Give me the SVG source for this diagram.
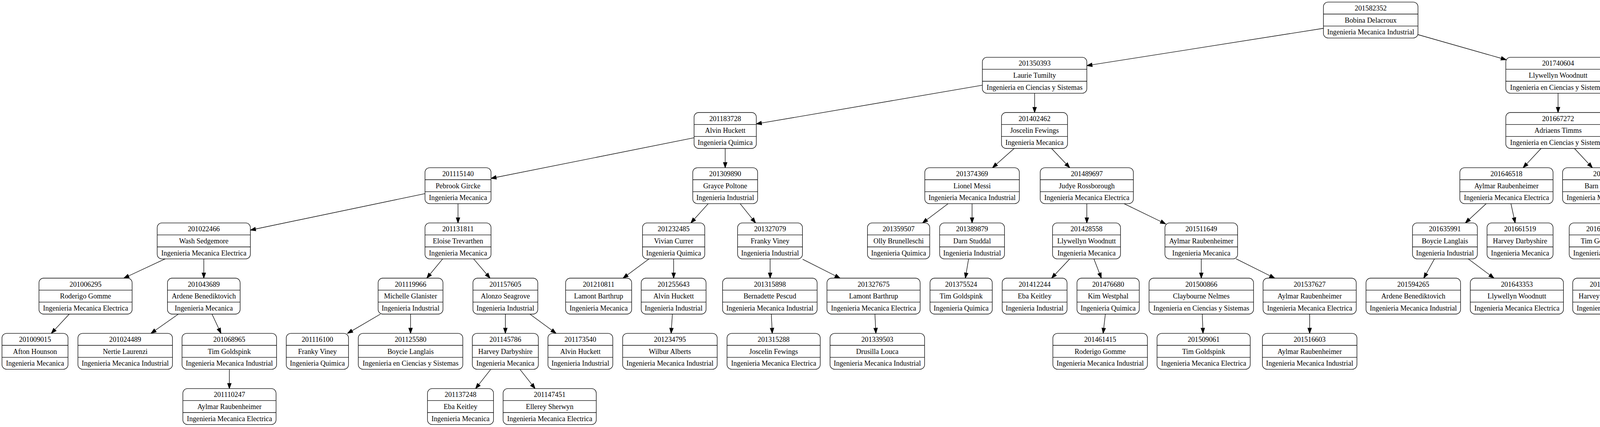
<svg xmlns="http://www.w3.org/2000/svg" xmlns:xlink="http://www.w3.org/1999/xlink" width="5831" height="1093" viewBox="0 0 5831 1093">
<style>
.bg{fill:#ffffff}
.box rect{fill:#ffffff;stroke:#000000;stroke-width:1.33}
.box line{stroke:#000000;stroke-width:1.33}
.node text{font-family:"Liberation Serif","Times New Roman",serif;font-size:18.2px;text-anchor:middle;fill:#000000}
#edges path{fill:none;stroke:#000000;stroke-width:1.33;marker-end:url(#ah)}
</style>
<defs>
<marker id="ah" markerUnits="userSpaceOnUse" viewBox="0 0 13.3 9.33" markerWidth="13.3" markerHeight="9.33" refX="13.3" refY="4.67" orient="auto" overflow="visible">
<path d="M0,0 L13.3,4.67 L0,9.33 z" fill="#000000" stroke="#000000" stroke-width="1.33"/>
</marker>
<g id="bQ" class="box"><rect x="-79.7" y="0" width="159.4" height="92" rx="12" ry="12"/><line x1="-79.7" y1="30.67" x2="79.7" y2="30.67"/><line x1="-79.7" y1="61.33" x2="79.7" y2="61.33"/></g>
<g id="bI" class="box"><rect x="-83" y="0" width="166" height="92" rx="12" ry="12"/><line x1="-83" y1="30.67" x2="83" y2="30.67"/><line x1="-83" y1="61.33" x2="83" y2="61.33"/></g>
<g id="bM" class="box"><rect x="-84.5" y="0" width="169" height="92" rx="12" ry="12"/><line x1="-84.5" y1="30.67" x2="84.5" y2="30.67"/><line x1="-84.5" y1="61.33" x2="84.5" y2="61.33"/></g>
<g id="bL" class="box"><rect x="-87" y="0" width="174" height="92" rx="12" ry="12"/><line x1="-87" y1="30.67" x2="87" y2="30.67"/><line x1="-87" y1="61.33" x2="87" y2="61.33"/></g>
<g id="bA" class="box"><rect x="-93" y="0" width="186" height="92" rx="12" ry="12"/><line x1="-93" y1="30.67" x2="93" y2="30.67"/><line x1="-93" y1="61.33" x2="93" y2="61.33"/></g>
<g id="bE" class="box"><rect x="-119.25" y="0" width="238.5" height="92" rx="12" ry="12"/><line x1="-119.25" y1="30.67" x2="119.25" y2="30.67"/><line x1="-119.25" y1="61.33" x2="119.25" y2="61.33"/></g>
<g id="bMI" class="box"><rect x="-121" y="0" width="242" height="92" rx="12" ry="12"/><line x1="-121" y1="30.67" x2="121" y2="30.67"/><line x1="-121" y1="61.33" x2="121" y2="61.33"/></g>
<g id="bS" class="box"><rect x="-133.75" y="0" width="267.5" height="92" rx="12" ry="12"/><line x1="-133.75" y1="30.67" x2="133.75" y2="30.67"/><line x1="-133.75" y1="61.33" x2="133.75" y2="61.33"/></g>
</defs>
<rect class="bg" x="0" y="0" width="5831" height="1093"/>

<g id="edges">
<path d="M3388,72.5 L2782.5,168"/>
<path d="M3629.5,88.5 L3856,153"/>
<path d="M2514.7,218.2 L1936.2,317.2"/>
<path d="M2648.6,238.67 L2648.6,288"/>
<path d="M1776.8,352.7 L1257,456.6"/>
<path d="M1856.5,380 L1856.5,429.33"/>
<path d="M1088,495.6 L641,589"/>
<path d="M1172.5,521.33 L1172.5,570.67"/>
<path d="M422.8,662.67 L317,712"/>
<path d="M521.7,662.67 L521.7,712"/>
<path d="M177.3,804 L131.4,853.33"/>
<path d="M456.6,804 L386.5,853.33"/>
<path d="M542.7,804 L565.7,853.33"/>
<path d="M587.2,945.33 L587.2,994.67"/>
<path d="M1133.3,662.67 L1092.5,712"/>
<path d="M1212.4,662.67 L1254.5,712"/>
<path d="M973.9,804 L889.7,853.33"/>
<path d="M1051,804 L1051,853.33"/>
<path d="M1293.7,804 L1293.7,853.33"/>
<path d="M1356.5,804 L1423.5,853.33"/>
<path d="M1256.4,945.33 L1217.5,994.67"/>
<path d="M1331,945.33 L1369.9,994.67"/>
<path d="M1813.1,521.33 L1768.5,570.67"/>
<path d="M1894.8,521.33 L1934.3,570.67"/>
<path d="M1661.4,662.67 L1595,712"/>
<path d="M1724.5,662.67 L1724.5,712"/>
<path d="M1721.3,804 L1718.1,853.33"/>
<path d="M1971.5,662.67 L1971.5,712"/>
<path d="M2054.8,663.6 L2150.5,712"/>
<path d="M1974.5,804 L1977,853.33"/>
<path d="M2239.8,804 L2242.3,853.33"/>
<path d="M2596.3,380 L2540.8,429.33"/>
<path d="M2692,380 L2738.5,429.33"/>
<path d="M2427.3,521.33 L2361.6,570.67"/>
<path d="M2488.5,521.33 L2488.5,570.67"/>
<path d="M2479.6,662.67 L2471.3,712"/>
<path d="M2782.3,521.33 L2782.3,570.67"/>
<path d="M2877.6,521.33 L2984,573"/>
<path d="M2738.5,662.67 L2692,712"/>
<path d="M2800.4,662.67 L2819.5,712"/>
<path d="M2829.7,804 L2824,853.33"/>
<path d="M3075.3,662.67 L3075.3,712"/>
<path d="M3164.5,662.67 L3263.4,712"/>
<path d="M3077.8,804 L3079.7,853.33"/>
<path d="M3352.7,804 L3352.7,853.33"/>
<path d="M3988.6,238.67 L3988.6,288"/>
<path d="M4121.8,216.1 L4764,319.3"/>
<path d="M3945.2,380 L3899.2,429.33"/>
<path d="M4030.6,380 L4076.5,429.33"/>
<path d="M3804.8,521.33 L3751.3,570.67"/>
<path d="M3868,521.33 L3878.8,570.67"/>
<path d="M3672.2,662.67 L3644.8,712"/>
<path d="M3758.9,662.67 L3824.6,712"/>
<path d="M4113.5,521.33 L4108.4,570.67"/>
<path d="M4188.1,521.33 L4261.5,570.67"/>
<path d="M4105.2,662.67 L4107.1,712"/>
<path d="M4326.5,662.67 L4324,712"/>
<path d="M4848.5,380 L4848.5,429.33"/>
<path d="M4933,365.3 L5122.5,432.2"/>
<path d="M4784.4,521.33 L4714.3,570.67"/>
<path d="M4875,521.33 L4903.7,570.67"/>
<path d="M4604.6,662.67 L4554.2,712"/>
<path d="M4666.5,662.67 L4682.4,712"/>
<path d="M4508.3,804 L4508.3,853.33"/>
<path d="M4928.3,662.67 L4928.3,712"/>
<path d="M5245.8,521.33 L5245.8,570.67"/>
<path d="M5334.8,521.33 L5431.8,570.67"/>
<path d="M5215.6,662.67 L5183.7,712"/>
<path d="M5291.5,662.67 L5343.1,712"/>
<path d="M5552.9,662.67 L5588.6,712"/>
<path d="M5074,799.5 L4950.9,853.33"/>
<path d="M5145.4,804 L5138.4,853.33"/>
<path d="M5396.1,804 L5403.7,853.33"/>
<path d="M5472.6,799.5 L5591.8,853.33"/>
</g>

<g id="n201582352" class="node" transform="translate(3509,5.33)"><use href="#bMI"/><text y="21.7">201582352</text><text y="52.4">Bobina Delacroux</text><text y="83">Ingenieria Mecanica Industrial</text></g>

<g id="n201350393" class="node" transform="translate(2648.6,146.67)"><use href="#bS"/><text y="21.7">201350393</text><text y="52.4">Laurie Tumilty</text><text y="83">Ingenieria en Ciencias y Sistemas</text></g>
<g id="n201740604" class="node" transform="translate(3988.6,146.67)"><use href="#bS"/><text y="21.7">201740604</text><text y="52.4">Llywellyn Woodnutt</text><text y="83">Ingenieria en Ciencias y Sistemas</text></g>

<g id="n201183728" class="node" transform="translate(1856.5,288)"><use href="#bQ"/><text y="21.7">201183728</text><text y="52.4">Alvin Huckett</text><text y="83">Ingenieria Quimica</text></g>
<g id="n201402462" class="node" transform="translate(2648.3,288)"><use href="#bM"/><text y="21.7">201402462</text><text y="52.4">Joscelin Fewings</text><text y="83">Ingenieria Mecanica</text></g>
<g id="n201667272" class="node" transform="translate(3988.6,288)"><use href="#bS"/><text y="21.7">201667272</text><text y="52.4">Adriaens Timms</text><text y="83">Ingenieria en Ciencias y Sistemas</text></g>
<g id="n201816850" class="node" transform="translate(4848.5,288)"><use href="#bM"/><text y="21.7">201816850</text><text y="52.4">Emili Palleske</text><text y="83">Ingenieria Mecanica</text></g>

<g id="n201115140" class="node" transform="translate(1172.5,429.33)"><use href="#bM"/><text y="21.7">201115140</text><text y="52.4">Pebrook Gircke</text><text y="83">Ingenieria Mecanica</text></g>
<g id="n201309890" class="node" transform="translate(1856.5,429.33)"><use href="#bI"/><text y="21.7">201309890</text><text y="52.4">Grayce Poltone</text><text y="83">Ingenieria Industrial</text></g>
<g id="n201374369" class="node" transform="translate(2488.5,429.33)"><use href="#bMI"/><text y="21.7">201374369</text><text y="52.4">Lionel Messi</text><text y="83">Ingenieria Mecanica Industrial</text></g>
<g id="n201489697" class="node" transform="translate(2782.2,429.33)"><use href="#bE"/><text y="21.7">201489697</text><text y="52.4">Judye Rossborough</text><text y="83">Ingenieria Mecanica Electrica</text></g>
<g id="n201646518" class="node" transform="translate(3856.5,429.33)"><use href="#bE"/><text y="21.7">201646518</text><text y="52.4">Aylmar Raubenheimer</text><text y="83">Ingenieria Mecanica Electrica</text></g>
<g id="n201698163" class="node" transform="translate(4119.5,429.33)"><use href="#bE"/><text y="21.7">201698163</text><text y="52.4">Barn Killingbeck</text><text y="83">Ingenieria Mecanica Electrica</text></g>
<g id="n201774497" class="node" transform="translate(4848.5,429.33)"><use href="#bS"/><text y="21.7">201774497</text><text y="52.4">Llywellyn Woodnutt</text><text y="83">Ingenieria en Ciencias y Sistemas</text></g>
<g id="n201947729" class="node" transform="translate(5245.5,429.33)"><use href="#bMI"/><text y="21.7">201947729</text><text y="52.4">Camila Dibbert</text><text y="83">Ingenieria Mecanica Industrial</text></g>

<g id="n201022466" class="node" transform="translate(521.7,570.67)"><use href="#bE"/><text y="21.7">201022466</text><text y="52.4">Wash Sedgemore</text><text y="83">Ingenieria Mecanica Electrica</text></g>
<g id="n201131811" class="node" transform="translate(1172.5,570.67)"><use href="#bM"/><text y="21.7">201131811</text><text y="52.4">Eloise Trevarthen</text><text y="83">Ingenieria Mecanica</text></g>
<g id="n201232485" class="node" transform="translate(1724.5,570.67)"><use href="#bQ"/><text y="21.7">201232485</text><text y="52.4">Vivian Currer</text><text y="83">Ingenieria Quimica</text></g>
<g id="n201327079" class="node" transform="translate(1971.3,570.67)"><use href="#bI"/><text y="21.7">201327079</text><text y="52.4">Franky Viney</text><text y="83">Ingenieria Industrial</text></g>
<g id="n201359507" class="node" transform="translate(2300.4,570.67)"><use href="#bQ"/><text y="21.7">201359507</text><text y="52.4">Olly Brunelleschi</text><text y="83">Ingenieria Quimica</text></g>
<g id="n201389879" class="node" transform="translate(2488.5,570.67)"><use href="#bI"/><text y="21.7">201389879</text><text y="52.4">Darn Studdal</text><text y="83">Ingenieria Industrial</text></g>
<g id="n201428558" class="node" transform="translate(2781.5,570.67)"><use href="#bL"/><text y="21.7">201428558</text><text y="52.4">Llywellyn Woodnutt</text><text y="83">Ingenieria Mecanica</text></g>
<g id="n201511649" class="node" transform="translate(3075.3,570.67)"><use href="#bA"/><text y="21.7">201511649</text><text y="52.4">Aylmar Raubenheimer</text><text y="83">Ingenieria Mecanica</text></g>
<g id="n201635991" class="node" transform="translate(3699,570.67)"><use href="#bI"/><text y="21.7">201635991</text><text y="52.4">Boycie Langlais</text><text y="83">Ingenieria Industrial</text></g>
<g id="n201661519" class="node" transform="translate(3891.3,570.67)"><use href="#bM"/><text y="21.7">201661519</text><text y="52.4">Harvey Darbyshire</text><text y="83">Ingenieria Mecanica</text></g>
<g id="n201669286" class="node" transform="translate(4101.7,570.67)"><use href="#bM"/><text y="21.7">201669286</text><text y="52.4">Tim Goldspink</text><text y="83">Ingenieria Mecanica</text></g>
<g id="n201704168" class="node" transform="translate(4329.8,570.67)"><use href="#bE"/><text y="21.7">201704168</text><text y="52.4">Tim Goldspink</text><text y="83">Ingenieria Mecanica Electrica</text></g>
<g id="n201766242" class="node" transform="translate(4650.9,570.67)"><use href="#bE"/><text y="21.7">201766242</text><text y="52.4">Franky Viney</text><text y="83">Ingenieria Mecanica Electrica</text></g>
<g id="n201790782" class="node" transform="translate(4928.3,570.67)"><use href="#bS"/><text y="21.7">201790782</text><text y="52.4">Claybourne Nelmes</text><text y="83">Ingenieria en Ciencias y Sistemas</text></g>
<g id="n201897987" class="node" transform="translate(5245.5,570.67)"><use href="#bQ"/><text y="21.7">201897987</text><text y="52.4">Michelle Glanister</text><text y="83">Ingenieria Quimica</text></g>
<g id="n201954202" class="node" transform="translate(5521.7,570.67)"><use href="#bMI"/><text y="21.7">201954202</text><text y="52.4">Eloise Trevarthen</text><text y="83">Ingenieria Mecanica Industrial</text></g>

<g id="n201006295" class="node" transform="translate(219,712)"><use href="#bE"/><text y="21.7">201006295</text><text y="52.4">Roderigo Gomme</text><text y="83">Ingenieria Mecanica Electrica</text></g>
<g id="n201043689" class="node" transform="translate(521.7,712)"><use href="#bA"/><text y="21.7">201043689</text><text y="52.4">Ardene Benediktovich</text><text y="83">Ingenieria Mecanica</text></g>
<g id="n201119966" class="node" transform="translate(1051,712)"><use href="#bI"/><text y="21.7">201119966</text><text y="52.4">Michelle Glanister</text><text y="83">Ingenieria Industrial</text></g>
<g id="n201157605" class="node" transform="translate(1293.7,712)"><use href="#bI"/><text y="21.7">201157605</text><text y="52.4">Alonzo Seagrove</text><text y="83">Ingenieria Industrial</text></g>
<g id="n201210811" class="node" transform="translate(1532.5,712)"><use href="#bM"/><text y="21.7">201210811</text><text y="52.4">Lamont Barthrup</text><text y="83">Ingenieria Mecanica</text></g>
<g id="n201255643" class="node" transform="translate(1724.5,712)"><use href="#bI"/><text y="21.7">201255643</text><text y="52.4">Alvin Huckett</text><text y="83">Ingenieria Industrial</text></g>
<g id="n201315898" class="node" transform="translate(1970.8,712)"><use href="#bMI"/><text y="21.7">201315898</text><text y="52.4">Bernadette Pescud</text><text y="83">Ingenieria Mecanica Industrial</text></g>
<g id="n201327675" class="node" transform="translate(2236.3,712)"><use href="#bE"/><text y="21.7">201327675</text><text y="52.4">Lamont Barthrup</text><text y="83">Ingenieria Mecanica Electrica</text></g>
<g id="n201375524" class="node" transform="translate(2460.5,712)"><use href="#bQ"/><text y="21.7">201375524</text><text y="52.4">Tim Goldspink</text><text y="83">Ingenieria Quimica</text></g>
<g id="n201412244" class="node" transform="translate(2648.6,712)"><use href="#bI"/><text y="21.7">201412244</text><text y="52.4">Eba Keitley</text><text y="83">Ingenieria Industrial</text></g>
<g id="n201476680" class="node" transform="translate(2836.8,712)"><use href="#bQ"/><text y="21.7">201476680</text><text y="52.4">Kim Westphal</text><text y="83">Ingenieria Quimica</text></g>
<g id="n201500866" class="node" transform="translate(3075.3,712)"><use href="#bS"/><text y="21.7">201500866</text><text y="52.4">Claybourne Nelmes</text><text y="83">Ingenieria en Ciencias y Sistemas</text></g>
<g id="n201537627" class="node" transform="translate(3352.7,712)"><use href="#bE"/><text y="21.7">201537627</text><text y="52.4">Aylmar Raubenheimer</text><text y="83">Ingenieria Mecanica Electrica</text></g>
<g id="n201594265" class="node" transform="translate(3618,712)"><use href="#bMI"/><text y="21.7">201594265</text><text y="52.4">Ardene Benediktovich</text><text y="83">Ingenieria Mecanica Industrial</text></g>
<g id="n201643353" class="node" transform="translate(3883.2,712)"><use href="#bE"/><text y="21.7">201643353</text><text y="52.4">Llywellyn Woodnutt</text><text y="83">Ingenieria Mecanica Electrica</text></g>
<g id="n201668149" class="node" transform="translate(4110.7,712)"><use href="#bM"/><text y="21.7">201668149</text><text y="52.4">Harvey Darbyshire</text><text y="83">Ingenieria Mecanica</text></g>
<g id="n201709702" class="node" transform="translate(4320.5,712)"><use href="#bI"/><text y="21.7">201709702</text><text y="52.4">Dillon Blandamere</text><text y="83">Ingenieria Industrial</text></g>
<g id="n201761573" class="node" transform="translate(4508.3,712)"><use href="#bQ"/><text y="21.7">201761573</text><text y="52.4">Alonzo Seagrove</text><text y="83">Ingenieria Quimica</text></g>
<g id="n201773473" class="node" transform="translate(4698,712)"><use href="#bM"/><text y="21.7">201773473</text><text y="52.4">Krystal Crellin</text><text y="83">Ingenieria Mecanica</text></g>
<g id="n201803912" class="node" transform="translate(4928.5,712)"><use href="#bMI"/><text y="21.7">201803912</text><text y="52.4">Emili Palleske</text><text y="83">Ingenieria Mecanica Industrial</text></g>
<g id="n201825364" class="node" transform="translate(5153.7,712)"><use href="#bQ"/><text y="21.7">201825364</text><text y="52.4">Phillis Syrie</text><text y="83">Ingenieria Quimica</text></g>
<g id="n201921767" class="node" transform="translate(5388.1,712)"><use href="#bM"/><text y="21.7">201921767</text><text y="52.4">Consolata Reskelly</text><text y="83">Ingenieria Mecanica</text></g>
<g id="n201991578" class="node" transform="translate(5618.6,712)"><use href="#bMI"/><text y="21.7">201991578</text><text y="52.4">Olly Brunelleschi</text><text y="83">Ingenieria Mecanica Industrial</text></g>

<g id="n201009015" class="node" transform="translate(89.6,853.33)"><use href="#bM"/><text y="21.7">201009015</text><text y="52.4">Afton Hounson</text><text y="83">Ingenieria Mecanica</text></g>
<g id="n201024489" class="node" transform="translate(320.5,853.33)"><use href="#bMI"/><text y="21.7">201024489</text><text y="52.4">Nertie Laurenzi</text><text y="83">Ingenieria Mecanica Industrial</text></g>
<g id="n201068965" class="node" transform="translate(587,853.33)"><use href="#bMI"/><text y="21.7">201068965</text><text y="52.4">Tim Goldspink</text><text y="83">Ingenieria Mecanica Industrial</text></g>
<g id="n201116100" class="node" transform="translate(812.5,853.33)"><use href="#bQ"/><text y="21.7">201116100</text><text y="52.4">Franky Viney</text><text y="83">Ingenieria Quimica</text></g>
<g id="n201125580" class="node" transform="translate(1051,853.33)"><use href="#bS"/><text y="21.7">201125580</text><text y="52.4">Boycie Langlais</text><text y="83">Ingenieria en Ciencias y Sistemas</text></g>
<g id="n201145786" class="node" transform="translate(1293.7,853.33)"><use href="#bM"/><text y="21.7">201145786</text><text y="52.4">Harvey Darbyshire</text><text y="83">Ingenieria Mecanica</text></g>
<g id="n201173540" class="node" transform="translate(1485.7,853.33)"><use href="#bI"/><text y="21.7">201173540</text><text y="52.4">Alvin Huckett</text><text y="83">Ingenieria Industrial</text></g>
<g id="n201234795" class="node" transform="translate(1715,853.33)"><use href="#bMI"/><text y="21.7">201234795</text><text y="52.4">Wilbur Alberts</text><text y="83">Ingenieria Mecanica Industrial</text></g>
<g id="n201315288" class="node" transform="translate(1980.5,853.33)"><use href="#bE"/><text y="21.7">201315288</text><text y="52.4">Joscelin Fewings</text><text y="83">Ingenieria Mecanica Electrica</text></g>
<g id="n201339503" class="node" transform="translate(2245.9,853.33)"><use href="#bMI"/><text y="21.7">201339503</text><text y="52.4">Drusilla Louca</text><text y="83">Ingenieria Mecanica Industrial</text></g>
<g id="n201461415" class="node" transform="translate(2816.4,853.33)"><use href="#bMI"/><text y="21.7">201461415</text><text y="52.4">Roderigo Gomme</text><text y="83">Ingenieria Mecanica Industrial</text></g>
<g id="n201509061" class="node" transform="translate(3081.3,853.33)"><use href="#bE"/><text y="21.7">201509061</text><text y="52.4">Tim Goldspink</text><text y="83">Ingenieria Mecanica Electrica</text></g>
<g id="n201516603" class="node" transform="translate(3352.7,853.33)"><use href="#bMI"/><text y="21.7">201516603</text><text y="52.4">Aylmar Raubenheimer</text><text y="83">Ingenieria Mecanica Industrial</text></g>
<g id="n201764124" class="node" transform="translate(4508.6,853.33)"><use href="#bI"/><text y="21.7">201764124</text><text y="52.4">Harvey Darbyshire</text><text y="83">Ingenieria Industrial</text></g>
<g id="n201818908" class="node" transform="translate(4839.3,853.33)"><use href="#bS"/><text y="21.7">201818908</text><text y="52.4">Wilbur Alberts</text><text y="83">Ingenieria en Ciencias y Sistemas</text></g>
<g id="n201864201" class="node" transform="translate(5131.1,853.33)"><use href="#bS"/><text y="21.7">201864201</text><text y="52.4">Claybourne Nelmes</text><text y="83">Ingenieria en Ciencias y Sistemas</text></g>
<g id="n201906670" class="node" transform="translate(5411.4,853.33)"><use href="#bMI"/><text y="21.7">201906670</text><text y="52.4">Franky Viney</text><text y="83">Ingenieria Mecanica Industrial</text></g>
<g id="n201933753" class="node" transform="translate(5691.4,853.33)"><use href="#bS"/><text y="21.7">201933753</text><text y="52.4">Bobina Delacroux</text><text y="83">Ingenieria en Ciencias y Sistemas</text></g>

<g id="n201110247" class="node" transform="translate(587.4,994.67)"><use href="#bE"/><text y="21.7">201110247</text><text y="52.4">Aylmar Raubenheimer</text><text y="83">Ingenieria Mecanica Electrica</text></g>
<g id="n201137248" class="node" transform="translate(1178.9,994.67)"><use href="#bM"/><text y="21.7">201137248</text><text y="52.4">Eba Keitley</text><text y="83">Ingenieria Mecanica</text></g>
<g id="n201147451" class="node" transform="translate(1407.2,994.67)"><use href="#bE"/><text y="21.7">201147451</text><text y="52.4">Ellerey Sherwyn</text><text y="83">Ingenieria Mecanica Electrica</text></g>
</svg>
